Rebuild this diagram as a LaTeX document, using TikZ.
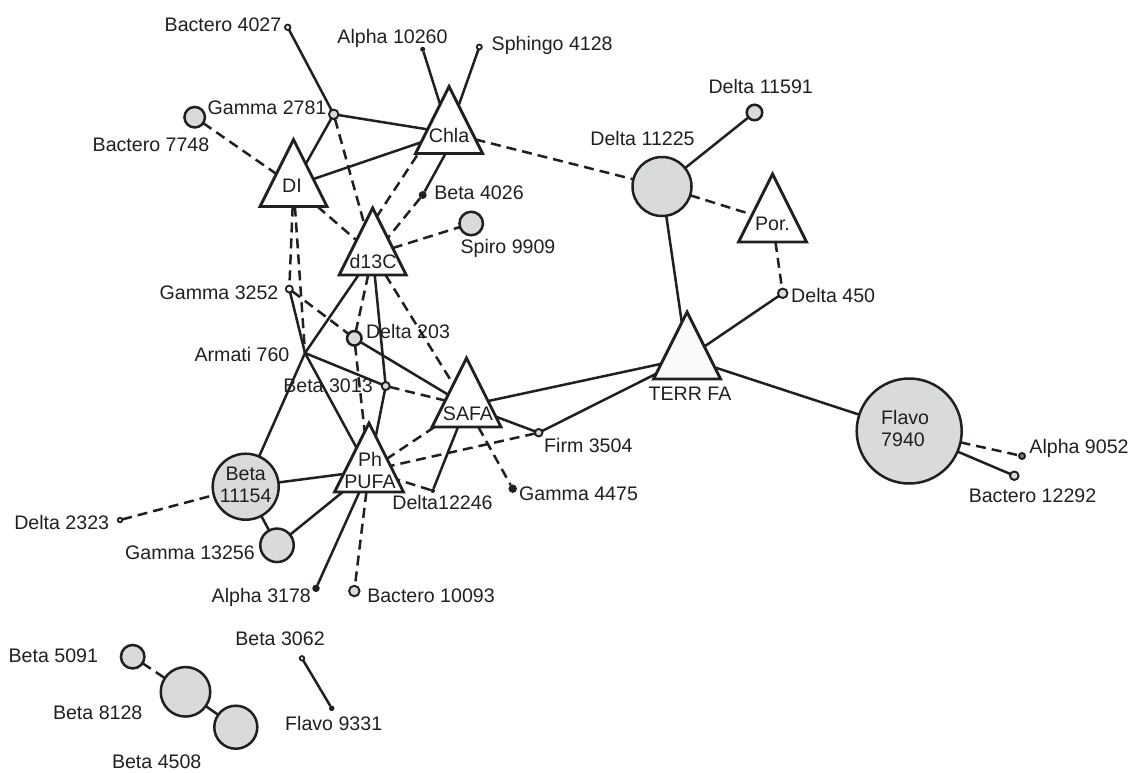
\documentclass[tikz,border=0pt]{standalone}
\usepackage{fontspec}
\setmainfont{Liberation Sans}
\usetikzlibrary{shapes.geometric}
\definecolor{cfill}{RGB}{217,218,220}
\definecolor{ink}{RGB}{35,31,32}
\definecolor{tfill}{RGB}{250,250,250}
\begin{document}
\begin{tikzpicture}[x=1pt,y=-1pt,
  tri/.style={draw=ink, fill=white, line width=2.9pt, isosceles triangle, isosceles triangle stretches,
    shape border rotate=90, minimum width=#1, minimum height=#1, inner sep=0pt, outer sep=0pt, anchor=apex},
  tri/.default=67pt,
  bigc/.style={circle, draw=ink, fill=cfill, line width=2.5pt, minimum size=#1, inner sep=0pt, outer sep=0pt},
  smc/.style={circle, draw=ink, fill=cfill, line width=1.9pt, minimum size=#1, inner sep=0pt, outer sep=0pt},
  opc/.style={circle, draw=ink, fill=white, line width=1.8pt, minimum size=#1, inner sep=0pt, outer sep=0pt},
  dot/.style={circle, fill=ink, minimum size=#1, inner sep=0pt, outer sep=0pt},
  lbl/.style={font=\fontsize{19.6}{22}\selectfont, inner sep=0pt, text height=14pt, text depth=0pt, text=ink},
  mlbl/.style={font=\fontsize{19.6}{22}\selectfont, inner sep=0pt, text=ink},
  sl/.style={draw=ink, line width=2.5pt},
  dl/.style={draw=ink, line width=2.5pt, dash pattern=on 10pt off 6pt}
]
\useasboundingbox (0,0) rectangle (1131,772);
\fill[white] (0,0) rectangle (1131,772);

% triangles
\node[tri] (chla) at (449,86.5) {};
\node[tri] (di) at (293.5,139.5) {};
\node[tri] (dtc) at (372.7,208) {};
\node[tri=69pt] (safa) at (466.5,358) {};
\node[tri=69pt] (pufa) at (369,423) {};
\node[tri=68pt] (por) at (772.5,174) {};
\node[tri, fill=tfill] (terr) at (687,312) {};

% big circles
\node[bigc=59pt] (d11225) at (662,186.5) {};
\node[bigc=15.5pt] (d11591) at (754.5,112.5) {};
\node[bigc=105pt] (flavo) at (909.2,431) {};
\node[bigc=66pt] (b11154) at (245.7,486.7) {};
\node[bigc=33.5pt] (g13256) at (277,545.3) {};
\node[bigc=23.5pt] (b5091) at (132.7,656.7) {};
\node[bigc=49.5pt] (b8128) at (185.5,691.8) {};
\node[bigc=43pt] (b4508) at (235.8,727.2) {};
\node[bigc=20.5pt] (bac7748) at (194.7,117.2) {};
\node[bigc=23.5pt] (spiro) at (471.2,223.5) {};
\node[bigc=14.5pt] (d203) at (354.3,338.3) {};

% small circles
\node[smc=9.5pt] (g2781) at (333.7,114.3) {};
\node[smc=8pt] (b3013) at (385.7,386) {};
\node[smc=7.5pt] (firm) at (538.7,432.7) {};
\node[smc=9.5pt] (d450) at (782.7,293.3) {};
\node[smc=8.5pt] (bac12292) at (1014.3,475.7) {};
\node[smc=6pt, fill=gray] (a9052) at (1022,456) {};
\node[smc=10.5pt] (bac10093) at (354.3,591) {};
\node[opc=5pt] (sph) at (479.3,47) {};
\node[opc=5.5pt] (bac4027) at (287.7,27.3) {};
\node[opc=7pt] (g3252) at (289.3,289) {};
\node[opc=4.5pt] (b3062) at (302,658.3) {};
\node[opc=4.5pt] (d2323) at (120,520) {};

% dots
\node[dot=5pt] (a10260) at (422.7,49.3) {};
\node[dot=8pt] (b4026) at (422.7,195) {};
\node[dot=7.5pt] (a3178) at (316,588.3) {};
\node[dot=8.5pt] (g4475) at (512.7,488.7) {};
\node[dot=4.5pt] (d12246) at (432.7,490.7) {};
\node[dot=5.5pt] (f9331) at (331.7,708.3) {};
\coordinate (armati) at (305,353);

% edges
\path[sl] (bac4027) -- (g2781);
\path[sl] (g2781) -- (chla);
\path[sl] (g2781) -- (di);
\path[sl] (di) -- (chla);
\path[sl] (a10260) -- (chla);
\path[sl] (sph) -- (chla);
\path[sl] ([xshift=-4pt,yshift=-68pt]chla.apex) -- (b4026);
\path[dl] (b4026) -- ([xshift=15pt,yshift=-30pt]dtc.apex);
\path[dl] ([xshift=-32pt,yshift=-69pt]chla.apex) -- ([xshift=4.5pt,yshift=-8pt]dtc.apex);
\path[dl] (g2781) -- (dtc);
\path[dl] (di) -- (dtc);
\path[dl] (bac7748) -- (di);
\path[dl] (dtc) -- (spiro);
\path[dl] (chla) -- (d11225);
\path[sl] (d11225) -- (d11591);
\path[dl] (d11225) -- (por);
\path[sl] (d11225) -- (terr);
\path[dl] (por) -- (d450);
\path[sl] (d450) -- (terr);
\path[sl] (terr) -- (flavo);
\path[dl] (flavo) -- (a9052);
\path[sl] (flavo) -- (bac12292);
\path[sl] (terr) -- (safa);
\path[sl] (terr) -- (firm);
\path[sl] (safa) -- (firm);
\path[dl] (firm) -- (pufa);
\path[dl] (safa) -- (pufa);
\path[dl] (safa) -- (g4475);
\path[sl] (safa) -- (d12246);
\path[dl] (d12246) -- (pufa);
\path[sl] (d203) -- (safa);
\path[dl] (g3252) -- (d203);
\path[sl] (armati) -- (b3013);
\path[dl] (b3013) -- (safa);
\path[sl] (dtc) -- (b3013);
\path[sl] (b3013) -- (pufa);
\path[dl] (dtc) -- (d203);
\path[dl] (d203) -- (pufa);
\path[dl] (dtc) -- (safa);
\path[sl] (dtc) -- (armati);
\path[sl] (armati) -- (b11154);
\path[sl] (g3252) -- (armati);
\path[sl] (armati) -- (pufa);
\path[dl] (di) -- (g3252);
\path[dl] (di) -- (armati);
\path[sl] (b11154) -- (pufa);
\path[dl] (d2323) -- (b11154);
\path[sl] (b11154) -- (g13256);
\path[sl] (g13256) -- (pufa);
\path[sl] (pufa) -- (a3178);
\path[dl] (pufa) -- (bac10093);
\path[dl] (b5091) -- (b8128);
\path[sl] (b8128) -- (b4508);
\path[sl] (b3062) -- (f9331);

% labels
\node[lbl] (chlaL) at (449,135.5) {Chla};
\node[lbl] (diL) at (292,185) {DI};
\node[lbl] (dtcL) at (373,261) {d13C};
\node[lbl] (safaL) at (468,413) {SAFA};
\node[mlbl, align=center] (pufaL) at (370,470.8) {Ph\\PUFA};
\node[lbl] (porL) at (772.5,223) {Por.};
\node[lbl] (terrL) at (690,393.3) {TERR FA};
\node[mlbl, align=center] (b11154L) at (245.7,485) {Beta\\11154};
\node[mlbl, align=left, anchor=west] (flavoL) at (881,428.2) {Flavo\\7940};

\node[lbl] (bac4027L) at (223,24.5) {Bactero 4027};
\node[lbl] (a10260L) at (392.5,36) {Alpha 10260};
\node[lbl, anchor=west] (sphL) at (491.5,43.5) {Sphingo 4128};
\node[lbl] (g2781L) at (267,107) {Gamma 2781};
\node[lbl] (bac7748L) at (151,144.2) {Bactero 7748};
\node[lbl] (b4026L) at (479,192.5) {Beta 4026};
\node[lbl] (spiroL) at (508,246.5) {Spiro 9909};
\node[lbl] (d11591L) at (760.7,86.7) {Delta 11591};
\node[lbl] (d11225L) at (642.5,138) {Delta 11225};
\node[lbl, anchor=west] (d450L) at (791,295.5) {Delta 450};
\node[lbl] (a9052L) at (1079,446) {Alpha 9052};
\node[lbl] (bac12292L) at (1032.5,495.5) {Bactero 12292};
\node[lbl] (g3252L) at (219,292) {Gamma 3252};
\node[lbl] (d203L) at (408,331) {Delta 203};
\node[lbl] (armatiL) at (242,354.5) {Armati 760};
\node[lbl] (b3013L) at (328,385.5) {Beta 3013};
\node[lbl, anchor=west] (firmL) at (544,445.5) {Firm 3504};
\node[lbl, anchor=west] (g4475L) at (519,493.7) {Gamma 4475};
\node[lbl] (d12246L) at (442.5,502) {Delta12246};
\node[lbl] (d2323L) at (61.7,522.5) {Delta 2323};
\node[lbl] (g13256L) at (190,552) {Gamma 13256};
\node[lbl] (a3178L) at (261.3,595.5) {Alpha 3178};
\node[lbl] (bac10093L) at (431,595.5) {Bactero 10093};
\node[lbl] (b3062L) at (280,638.5) {Beta 3062};
\node[lbl] (b5091L) at (53.3,655) {Beta 5091};
\node[lbl] (b8128L) at (97.7,712.8) {Beta 8128};
\node[lbl] (f9331L) at (333.7,723.3) {Flavo 9331};
\node[lbl] (b4508L) at (156.7,761.7) {Beta 4508};
\end{tikzpicture}
\end{document}
